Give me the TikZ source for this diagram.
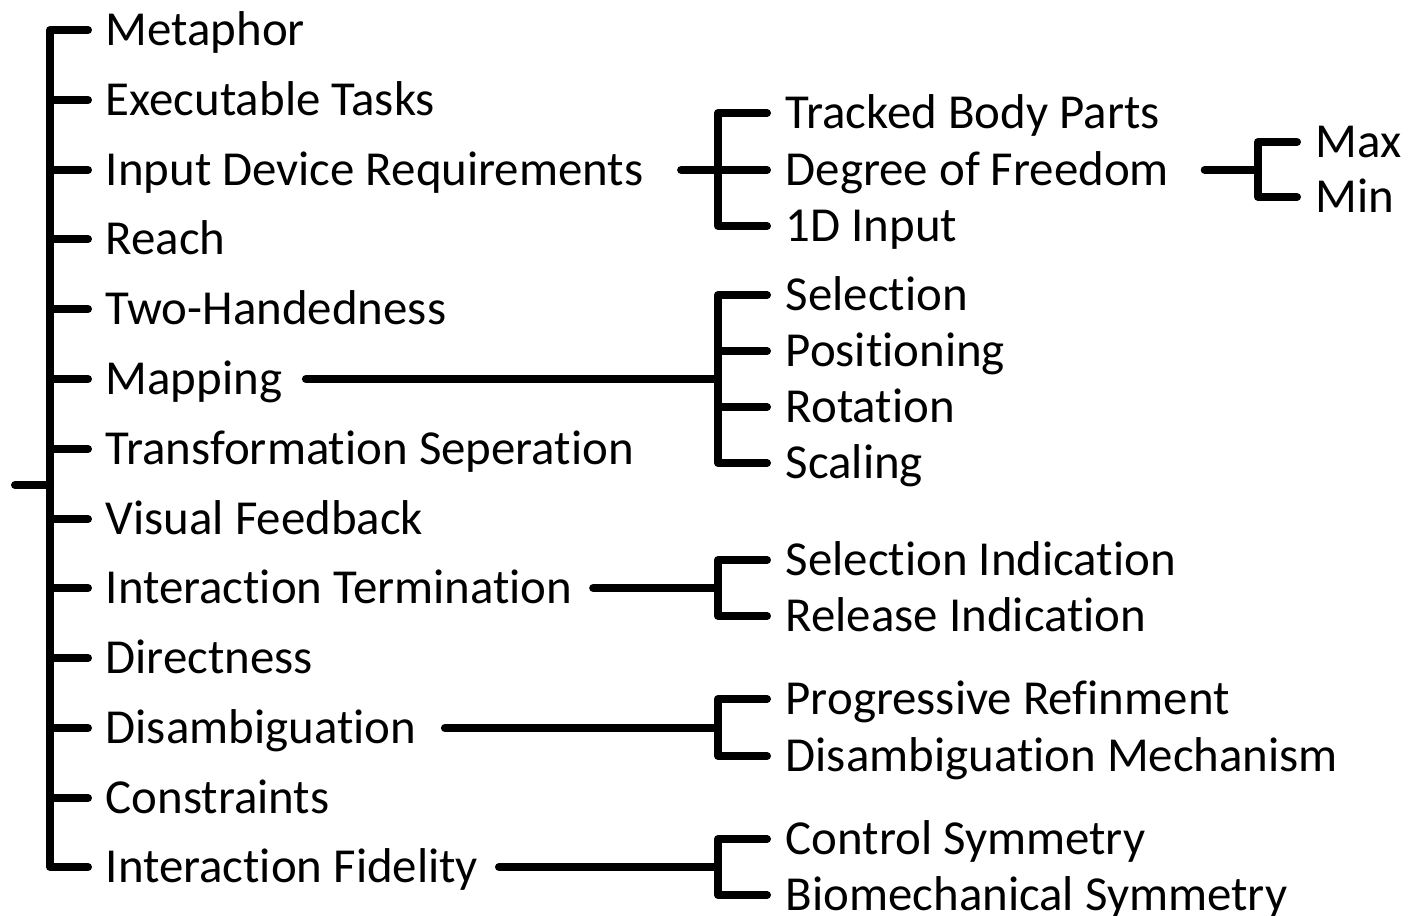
\documentclass[tikz,border=0pt]{standalone}
\usepackage{fontspec}
\setmainfont{Carlito}[Ligatures={NoCommon, NoContextual}]
\usetikzlibrary{positioning, calc}

\begin{document}
\begin{tikzpicture}[
		x=0.01cm, y=-0.01cm,
		lbl/.style={anchor=west, inner sep=0pt, text height=3.16mm, text depth=0pt, font=\fontsize{13.9}{16}\selectfont},
		br/.style={line width=0.08cm, line cap=round, line join=round}
	]

	\useasboundingbox (0,0) rectangle (1422,916);

	% Main list
	\node[lbl] (meta) at (105, 30) {Metaphor};
	\node[lbl] (exec) at (105, 100) {Executable Tasks};
	\node[lbl] (idr) at (105, 170) {Input Device Requirements};
	\node[lbl] (reach) at (105, 239) {Reach};
	\node[lbl] (twoh) at (105, 309) {Two-Handedness};
	\node[lbl] (map) at (105, 379) {Mapping};
	\node[lbl] (trans) at (105, 449) {Transformation Seperation};
	\node[lbl] (vis) at (105, 519) {Visual Feedback};
	\node[lbl] (term) at (105, 588) {Interaction Termination};
	\node[lbl] (dir) at (105, 658) {Directness};
	\node[lbl] (dis) at (105, 728) {Disambiguation};
	\node[lbl] (cons) at (105, 798) {Constraints};
	\node[lbl] (fid) at (105, 867) {Interaction Fidelity};

	\coordinate (spine) at (50, 0);
	\coordinate (rootend) at (15, 485);
	\draw[br] (rootend) -- (spine |- rootend);
	\draw[br] ([xshift=-0.17cm]meta.west) -| (spine |- fid.west) -- ([xshift=-0.17cm]fid.west);
	\draw[br] (spine |- exec.west) -- ([xshift=-0.17cm]exec.west);
	\draw[br] (spine |- idr.west) -- ([xshift=-0.17cm]idr.west);
	\draw[br] (spine |- reach.west) -- ([xshift=-0.17cm]reach.west);
	\draw[br] (spine |- twoh.west) -- ([xshift=-0.17cm]twoh.west);
	\draw[br] (spine |- map.west) -- ([xshift=-0.17cm]map.west);
	\draw[br] (spine |- trans.west) -- ([xshift=-0.17cm]trans.west);
	\draw[br] (spine |- vis.west) -- ([xshift=-0.17cm]vis.west);
	\draw[br] (spine |- term.west) -- ([xshift=-0.17cm]term.west);
	\draw[br] (spine |- dir.west) -- ([xshift=-0.17cm]dir.west);
	\draw[br] (spine |- dis.west) -- ([xshift=-0.17cm]dis.west);
	\draw[br] (spine |- cons.west) -- ([xshift=-0.17cm]cons.west);

	% Input device requirements
	\node[lbl] (tbp) at (785, 113) {Tracked Body Parts};
	\node[lbl] (dof) at (785, 170) {Degree of Freedom};
	\node[lbl] (oned) at (785, 226) {1D Input};
	\coordinate (idr_spine) at (718, 0);
	\draw[br] ([xshift=0.37cm]idr.east) -- ([xshift=-0.18cm]dof.west);
	\draw[br] ([xshift=-0.18cm]tbp.west) -| (idr_spine |- oned.west) -- ([xshift=-0.18cm]oned.west);

	% Degree of freedom
	\node[lbl] (max) at (1315, 142) {Max};
	\node[lbl] (min) at (1315, 197) {Min};
	\coordinate (dof_spine) at (1258, 0);
	\draw[br] ([xshift=0.35cm]dof.east) -- (dof_spine |- dof.east);
	\draw[br] ([xshift=-0.18cm]max.west) -| (dof_spine |- min.west) -- ([xshift=-0.18cm]min.west);

	% Mapping
	\node[lbl] (sel) at (785, 295) {Selection};
	\node[lbl] (pos) at (785, 351) {Positioning};
	\node[lbl] (rot) at (785, 407) {Rotation};
	\node[lbl] (scal) at (785, 463) {Scaling};
	\coordinate (map_spine) at (718, 0);
	\draw[br] ([xshift=0.23cm]map.east) -- (map_spine |- map.east);
	\draw[br] ([xshift=-0.18cm]sel.west) -| (map_spine |- scal.west) -- ([xshift=-0.18cm]scal.west);
	\draw[br] (map_spine |- pos.west) -- ([xshift=-0.18cm]pos.west);
	\draw[br] (map_spine |- rot.west) -- ([xshift=-0.18cm]rot.west);

	% Interaction termination
	\node[lbl] (seli) at (785, 560) {Selection Indication};
	\node[lbl] (reli) at (785, 616) {Release Indication};
	\coordinate (term_spine) at (718, 0);
	\draw[br] ([xshift=0.2cm]term.east) -- (term_spine |- term.east);
	\draw[br] ([xshift=-0.18cm]seli.west) -| (term_spine |- reli.west) -- ([xshift=-0.18cm]reli.west);

	% Disambiguation
	\node[lbl] (prog) at (785, 699) {Progressive Refinment};
	\node[lbl] (mech) at (785, 756) {Disambiguation Mechanism};
	\coordinate (dis_spine) at (718, 0);
	\draw[br] ([xshift=0.28cm]dis.east) -- (dis_spine |- dis.east);
	\draw[br] ([xshift=-0.18cm]prog.west) -| (dis_spine |- mech.west) -- ([xshift=-0.18cm]mech.west);

	% Interaction fidelity
	\node[lbl] (csym) at (785, 839) {Control Symmetry};
	\node[lbl] (bsym) at (785, 895) {Biomechanical Symmetry};
	\coordinate (fid_spine) at (718, 0);
	\draw[br] ([xshift=0.2cm]fid.east) -- (fid_spine |- fid.east);
	\draw[br] ([xshift=-0.18cm]csym.west) -| (fid_spine |- bsym.west) -- ([xshift=-0.18cm]bsym.west);

\end{tikzpicture}
\end{document}
